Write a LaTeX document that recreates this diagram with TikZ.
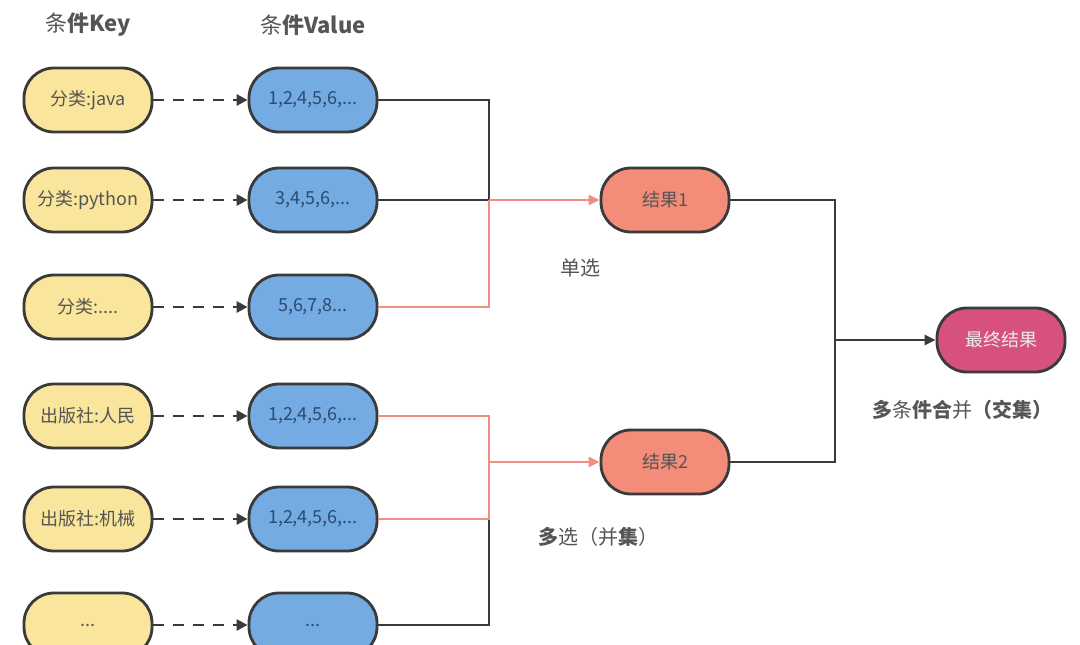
\documentclass[tikz,border=0pt]{standalone}
\usepackage{fontspec}
\setmainfont{Liberation Sans}
\newfontfamily\cjk{Noto Sans CJK SC}
\usetikzlibrary{arrows.meta}
\definecolor{ky}{HTML}{F9E59C}
\definecolor{vb}{HTML}{74ABE2}
\definecolor{rs}{HTML}{F38C78}
\definecolor{fn}{HTML}{D6517B}
\definecolor{ln}{HTML}{3A3A3A}
\definecolor{rl}{HTML}{EE8F80}
\definecolor{tx}{HTML}{555555}
\definecolor{vt}{HTML}{2D4A72}
\begin{document}
\begin{tikzpicture}[x=1pt,y=-1pt,
  pill/.style={draw=ln,line width=2.8pt,rounded corners=30pt,minimum width=128pt,minimum height=64pt,font=\cjk\fontsize{18}{20}\selectfont,inner sep=0pt},
  keyb/.style={pill,fill=ky,text=tx},
  valb/.style={pill,fill=vb,text=vt},
  resb/.style={pill,fill=rs,text=tx},
  finb/.style={pill,fill=fn,text=white!85!gray},
  dsh/.style={draw=ln,line width=2.8pt,dash pattern=on 11pt off 9pt,-{Triangle[length=11pt,width=11pt]}},
  blk/.style={draw=ln,line width=2.5pt},
  red/.style={draw=rl,line width=2.5pt},
  lbl/.style={font=\cjk\fontsize{20}{22}\selectfont,text=tx}]
\useasboundingbox[fill=white] (0,0) rectangle (1080,645);
\node[lbl,font=\cjk\fontsize{22}{24}\selectfont] (h1) at (88,25) {条\textbf{件Key}};
\node[lbl,font=\cjk\fontsize{22}{24}\selectfont] (h2) at (313,25) {条\textbf{件Value}};
\foreach \n/\y/\k/\v in {1/100/{分类:java}/{1,2,4,5,6,...},2/200/{分类:python}/{3,4,5,6,...},3/307/{分类:....}/{5,6,7,8...},4/416/{出版社:人民}/{1,2,4,5,6,...},5/519/{出版社:机械}/{1,2,4,5,6,...},6/625/{...}/{...}}{
  \node[keyb] (k\n) at (88,\y) {\k};
  \node[valb] (v\n) at (313,\y) {\v};
  \draw[dsh] (k\n.east) -- (v\n.west);
}
\node[resb] (r1) at (665,200) {结果1};
\node[resb] (r2) at (665,462) {结果2};
\node[finb] (f) at (1001,340) {最终结果};
\coordinate (j1) at (489,200);
\coordinate (j2) at (489,462);
\coordinate (j3) at (835,340);
\draw[blk] (v1.east) -| (j1);
\draw[blk] (v2.east) -- (j1);
\draw[red] (v3.east) -| (j1);
\draw[red,-{Triangle[length=11pt,width=10pt]}] (j1) -- (r1.west);
\draw[blk] (v6.east) -| (489,519);
\draw[red] (v4.east) -| (489,519) -- (v5.east);
\draw[red,-{Triangle[length=11pt,width=10pt]}] (j2) -- (r2.west);
\draw[blk] (r1.east) -| (j3);
\draw[blk] (r2.east) -| (j3);
\draw[blk,-{Triangle[length=11pt,width=10pt]}] (j3) -- (f.west);
\node[lbl] (l1) at (580,268) {单选};
\node[lbl] (l2) at (598,537) {\textbf{多}选（并\textbf{集}）};
\node[lbl] (l3) at (962,410) {\textbf{多}条\textbf{件合}并\textbf{（交集）}};
\end{tikzpicture}
\end{document}
